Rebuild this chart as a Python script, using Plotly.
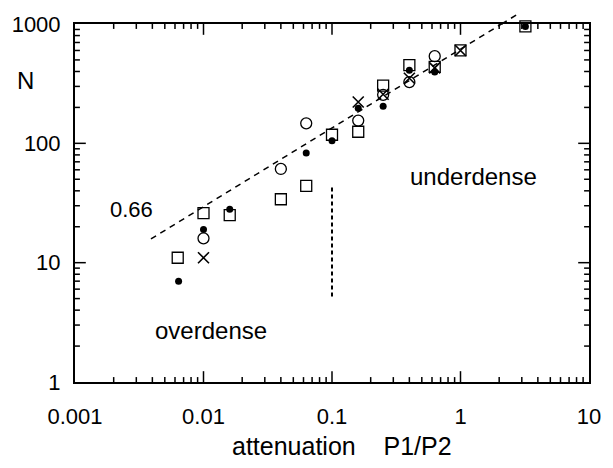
import numpy as np
import plotly.graph_objects as go

# ---- data ----
filled_x = [0.0064, 0.01, 0.016, 0.063, 0.1, 0.16, 0.25, 0.4, 0.63, 3.2]
filled_y = [7.0, 19, 28, 83, 105, 197, 205, 410, 397, 955]

circle_x = [0.01, 0.04, 0.063, 0.16, 0.25, 0.4, 0.63]
circle_y = [16, 61, 147, 155, 255, 326, 537]

square_x = [0.0063, 0.01, 0.016, 0.04, 0.063, 0.1, 0.16, 0.25, 0.4, 0.63, 1.0, 3.2]
square_y = [11, 26, 25, 34, 44, 118, 125, 305, 452, 437, 600, 955]

cross_x = [0.01, 0.16, 0.25, 0.4, 0.63, 1.0]
cross_y = [11, 222, 258, 351, 429, 600]

fit_slope = 0.66
fit_amp = 615          # N at P1/P2 = 1
fit_x_ends = [0.0039, 2.75]

threshold_x = 0.1
threshold_y = [5.2, 44]

x_tick_vals = [0.001, 0.01, 0.1, 1, 10]
x_tick_text = ["0.001", "0.01", "0.1", "1", "10"]
y_tick_vals = [1, 10, 100, 1000]
y_tick_text = ["1", "10", "100", "1000"]

x_log_range = [-3, 1]
y_log_range = [0, 3]

FONT = "Liberation Sans, Arial, Helvetica, sans-serif"
W, H = 613, 468
M = dict(l=73, r=17, t=18, b=86)

fig = go.Figure()

# fitted power-law line
fx = np.array(fit_x_ends)
fy = fit_amp * fx ** fit_slope
fig.add_trace(go.Scatter(x=fx, y=fy, mode="lines",
                         line=dict(color="black", width=1.5, dash="6px,5px"),
                         hoverinfo="skip", showlegend=False))

# overshoot of the fit line above the frame (paper coords, computed from the fit)
y_top = 10 ** y_log_range[1]
x_cross = (y_top / fit_amp) ** (1 / fit_slope)
def xp(v):
    return (np.log10(v) - x_log_range[0]) / (x_log_range[1] - x_log_range[0])
def yp(v):
    return (np.log10(v) - y_log_range[0]) / (y_log_range[1] - y_log_range[0])
fig.add_shape(type="line", xref="paper", yref="paper",
              x0=xp(x_cross), y0=yp(y_top), x1=xp(fx[-1]), y1=yp(fy[-1]),
              line=dict(color="black", width=1.5, dash="6px,5px"))

# vertical threshold line
fig.add_trace(go.Scatter(x=[threshold_x, threshold_x], y=threshold_y, mode="lines",
                         line=dict(color="black", width=2, dash="4px,3px"),
                         hoverinfo="skip", showlegend=False))

# ---- inside tick marks (major + minor, on all four sides) ----
px_per_dec_x = (W - M["l"] - M["r"]) / (x_log_range[1] - x_log_range[0])
px_per_dec_y = (H - M["t"] - M["b"]) / (y_log_range[1] - y_log_range[0])
MAJOR_LEN, MINOR_LEN = 11, 5

def minor_vals(lo, hi):
    return [m * 10.0 ** d for d in range(lo, hi) for m in range(2, 10)]

def tick_segments(vals, length, axis):
    xs, ys = [], []
    if axis == "x":
        d = length / px_per_dec_y
        lo, hi = y_log_range
        for v in vals:
            xs += [v, v, None]; ys += [10 ** lo, 10 ** (lo + d), None]
            xs += [v, v, None]; ys += [10 ** (hi - d), 10 ** hi, None]
    else:
        d = length / px_per_dec_x
        lo, hi = x_log_range
        for v in vals:
            ys += [v, v, None]; xs += [10 ** lo, 10 ** (lo + d), None]
            ys += [v, v, None]; xs += [10 ** (hi - d), 10 ** hi, None]
    return xs, ys

tick_sets = [
    (x_tick_vals[1:-1], MAJOR_LEN, "x"),
    (minor_vals(-3, 1), MINOR_LEN, "x"),
    (y_tick_vals[1:-1], MAJOR_LEN, "y"),
    (minor_vals(0, 3), MINOR_LEN, "y"),
]
for vals, ln, ax in tick_sets:
    tx, ty = tick_segments(vals, ln, ax)
    fig.add_trace(go.Scatter(x=tx, y=ty, mode="lines", line=dict(color="black", width=1.5),
                             hoverinfo="skip", showlegend=False))

# ---- data markers ----
fig.add_trace(go.Scatter(x=square_x, y=square_y, mode="markers",
                         marker=dict(symbol="square-open", size=11, color="black",
                                     line=dict(width=1.3, color="black")),
                         cliponaxis=False, showlegend=False))
fig.add_trace(go.Scatter(x=circle_x, y=circle_y, mode="markers",
                         marker=dict(symbol="circle-open", size=11, color="black",
                                     line=dict(width=1.3, color="black")),
                         cliponaxis=False, showlegend=False))
fig.add_trace(go.Scatter(x=cross_x, y=cross_y, mode="markers",
                         marker=dict(symbol="x-thin-open", size=11, color="black",
                                     line=dict(width=1.6, color="black")),
                         cliponaxis=False, showlegend=False))
fig.add_trace(go.Scatter(x=filled_x, y=filled_y, mode="markers",
                         marker=dict(symbol="circle", size=7, color="black"),
                         cliponaxis=False, showlegend=False))

# frame axes: box line only
frame = dict(type="log", showline=True, linewidth=2, linecolor="black", mirror=True,
             ticks="", showgrid=False, zeroline=False, showticklabels=False)
fig.update_xaxes(**frame, range=x_log_range)
fig.update_yaxes(**frame, range=y_log_range)

# label axes: same scale, invisible outside ticks used as label offset
lab = dict(type="log", showline=False, showgrid=False, zeroline=False, ticks="outside",
           tickcolor="rgba(0,0,0,0)", tickmode="array",
           tickfont=dict(family=FONT, size=22, color="black"))
fig.update_layout(
    xaxis2=dict(**lab, overlaying="x", anchor="y2", side="bottom", range=x_log_range,
                tickvals=x_tick_vals, ticktext=x_tick_text, ticklen=15),
    yaxis2=dict(**lab, overlaying="y", anchor="x2", side="left", range=y_log_range,
                tickvals=y_tick_vals, ticktext=y_tick_text, ticklen=9),
)
fig.add_trace(go.Scatter(x=[x_tick_vals[0]], y=[y_tick_vals[0]], xaxis="x2", yaxis="y2",
                         mode="markers", marker=dict(opacity=0), hoverinfo="skip",
                         showlegend=False))

txt = dict(family=FONT, size=24, color="black")
fig.add_annotation(x=np.log10(0.00275), y=np.log10(27.7), text="0.66", showarrow=False,
                   xanchor="center", yanchor="middle",
                   font=dict(family=FONT, size=22, color="black"))
fig.add_annotation(x=np.log10(1.27), y=np.log10(53), text="underdense", showarrow=False,
                   xanchor="center", yanchor="middle", font=txt)
fig.add_annotation(x=np.log10(0.0114), y=np.log10(2.69), text="overdense", showarrow=False,
                   xanchor="center", yanchor="middle", font=txt)
fig.add_annotation(xref="paper", yref="paper", x=-0.096, y=0.843, text="N",
                   xanchor="center", yanchor="middle", showarrow=False, font=txt)
fig.add_annotation(xref="paper", yref="paper", x=0.519, y=-0.178,
                   xanchor="center", yanchor="middle",
                   text="attenuation\u00a0\u00a0\u00a0\u00a0P1/P2", showarrow=False,
                   font=dict(family=FONT, size=25, color="black"))

fig.update_layout(width=W, height=H, margin=M,
                  paper_bgcolor="white", plot_bgcolor="white", showlegend=False)

fig.write_html("out.html")
